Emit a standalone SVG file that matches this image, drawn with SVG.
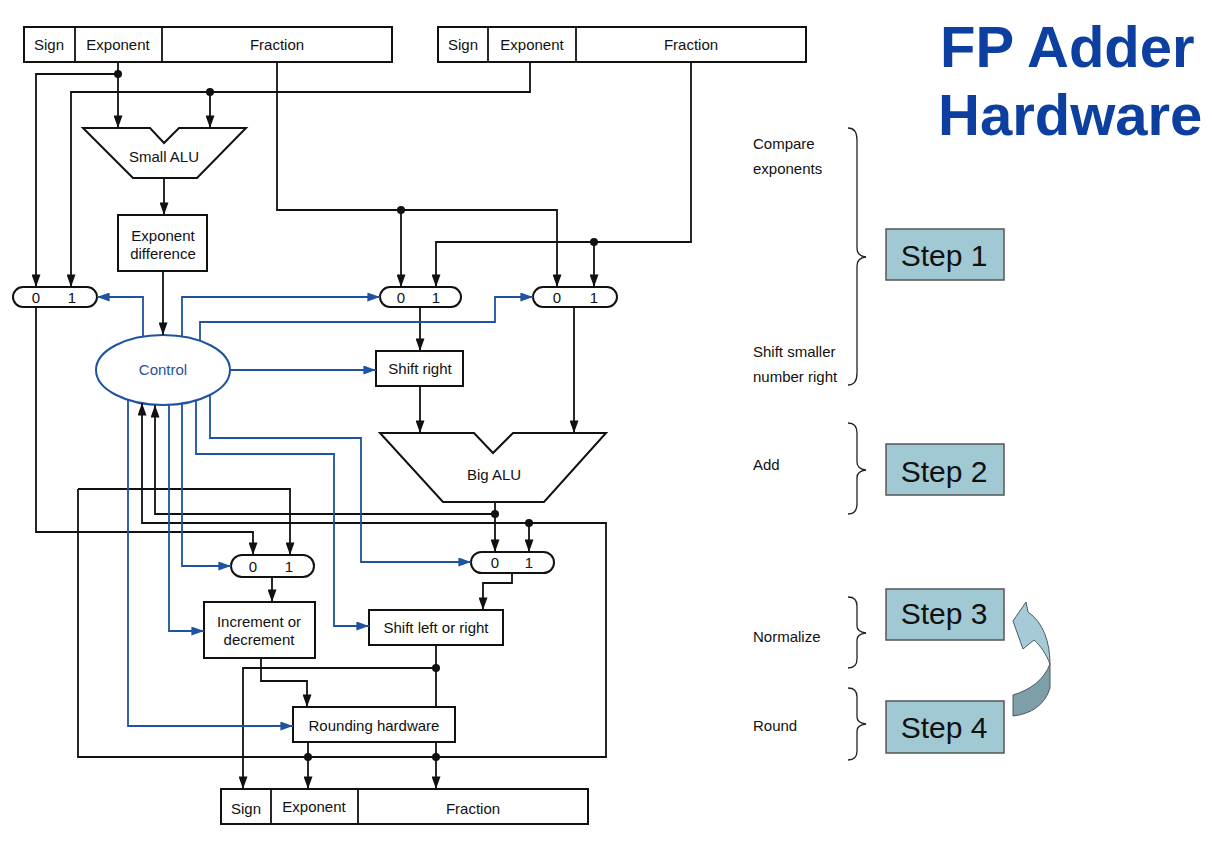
<svg xmlns="http://www.w3.org/2000/svg" width="1212" height="843" viewBox="0 0 1212 843">
<style>
text{font-family:"Liberation Sans",Arial,sans-serif;fill:#111;}
.lbl{font-size:15px;text-anchor:middle;}
.box{fill:#fff;stroke:#111;stroke-width:2;}
.w{fill:none;stroke:#111;stroke-width:1.8;}
.b{fill:none;stroke:#1f52a0;stroke-width:1.8;}
.dot{fill:#111;}
.step{fill:#a0c9d3;stroke:#555;stroke-width:1.5;}
.stxt{font-size:30px;text-anchor:middle;}
.side{font-size:15px;}
.brace{fill:none;stroke:#222;stroke-width:1.3;}
</style>
<defs>
<marker id="ak" viewBox="0 0 14 10" refX="14" refY="5" markerWidth="14" markerHeight="9" orient="auto" markerUnits="userSpaceOnUse"><path d="M0,0 L14,5 L0,10 Z" fill="#111"/></marker>
<marker id="abl" viewBox="0 0 14 10" refX="14" refY="5" markerWidth="14" markerHeight="9" orient="auto" markerUnits="userSpaceOnUse"><path d="M0,0 L14,5 L0,10 Z" fill="#1f52a0"/></marker>
</defs>
<rect width="1212" height="843" fill="#fff"/>

<g id="title">
<text x="940" y="67" style="font-size:58px;font-weight:bold;fill:#0d3fa0">FP Adder</text>
<text x="938" y="135" style="font-size:58px;font-weight:bold;fill:#0d3fa0">Hardware</text>
</g>

<g id="regA">
<rect class="box" x="24" y="27" width="368" height="35"/>
<line class="w" x1="75" y1="27" x2="75" y2="62"/>
<line class="w" x1="162" y1="27" x2="162" y2="62"/>
<text class="lbl" x="49" y="50">Sign</text>
<text class="lbl" x="118" y="50">Exponent</text>
<text class="lbl" x="277" y="50">Fraction</text>
</g>
<g id="regB">
<rect class="box" x="438" y="27" width="368" height="35"/>
<line class="w" x1="488" y1="27" x2="488" y2="62"/>
<line class="w" x1="576" y1="27" x2="576" y2="62"/>
<text class="lbl" x="463" y="50">Sign</text>
<text class="lbl" x="532" y="50">Exponent</text>
<text class="lbl" x="691" y="50">Fraction</text>
</g>
<g id="regOut">
<rect class="box" x="221" y="789" width="367" height="35"/>
<line class="w" x1="271" y1="789" x2="271" y2="824"/>
<line class="w" x1="358" y1="789" x2="358" y2="824"/>
<text class="lbl" x="246" y="814">Sign</text>
<text class="lbl" x="314" y="812">Exponent</text>
<text class="lbl" x="473" y="814">Fraction</text>
</g>

<g id="smallALU">
<path class="box" d="M83,128 L150,128 L164,143 L179,128 L246,128 L197,178 L133,178 Z"/>
<text class="lbl" x="164" y="162">Small ALU</text>
</g>
<g id="expDiff">
<rect class="box" x="118" y="215" width="89" height="56"/>
<text class="lbl" x="163" y="241">Exponent</text>
<text class="lbl" x="163" y="259">difference</text>
</g>
<g id="control">
<ellipse cx="163" cy="370" rx="67" ry="35" fill="#fff" stroke="#1f52a0" stroke-width="2"/>
<text class="lbl" x="163" y="375" style="fill:#1f52a0">Control</text>
</g>
<g id="mux1">
<rect class="box" x="13" y="287" width="84" height="20" rx="10"/>
<text class="lbl" x="36" y="303">0</text><text class="lbl" x="72" y="303">1</text>
</g>
<g id="mux2">
<rect class="box" x="380" y="287" width="81" height="20" rx="10"/>
<text class="lbl" x="401" y="303">0</text><text class="lbl" x="436" y="303">1</text>
</g>
<g id="mux3">
<rect class="box" x="533" y="287" width="84" height="20" rx="10"/>
<text class="lbl" x="557" y="303">0</text><text class="lbl" x="594" y="303">1</text>
</g>
<g id="shiftRight">
<rect class="box" x="376" y="351" width="87" height="35"/>
<text class="lbl" x="420" y="374">Shift right</text>
</g>
<g id="bigALU">
<path class="box" d="M380,433 L474,433 L493,453 L513,433 L606,433 L544,502 L443,502 Z"/>
<text class="lbl" x="494" y="480">Big ALU</text>
</g>
<g id="mux4">
<rect class="box" x="231" y="555" width="83" height="22" rx="11"/>
<text class="lbl" x="253" y="572">0</text><text class="lbl" x="289" y="572">1</text>
</g>
<g id="mux5">
<rect class="box" x="471" y="552" width="83" height="21" rx="10.5"/>
<text class="lbl" x="495" y="568">0</text><text class="lbl" x="529" y="568">1</text>
</g>
<g id="incDec">
<rect class="box" x="204" y="602" width="111" height="56"/>
<text class="lbl" x="259" y="627">Increment or</text>
<text class="lbl" x="259" y="645">decrement</text>
</g>
<g id="shiftLR">
<rect class="box" x="369" y="610" width="134" height="35"/>
<text class="lbl" x="436" y="633">Shift left or right</text>
</g>
<g id="rounding">
<rect class="box" x="293" y="707" width="162" height="35"/>
<text class="lbl" x="374" y="731">Rounding hardware</text>
</g>

<g id="connectors">
<path class="w" d="M118,62 V128" marker-end="url(#ak)"/>
<path class="w" d="M118,74 H36 V287" marker-end="url(#ak)"/>
<path class="w" d="M530,62 V92 H71 V287" marker-end="url(#ak)"/>
<path class="w" d="M210,92 V128" marker-end="url(#ak)"/>
<path class="w" d="M164,178 V215" marker-end="url(#ak)"/>
<path class="w" d="M163,271 V335" marker-end="url(#ak)"/>
<path class="w" d="M277,62 V210 H557 V287" marker-end="url(#ak)"/>
<path class="w" d="M401,210 V287" marker-end="url(#ak)"/>
<path class="w" d="M691,62 V242 H436 V287" marker-end="url(#ak)"/>
<path class="w" d="M594,242 V287" marker-end="url(#ak)"/>
<path class="w" d="M420,307 V351" marker-end="url(#ak)"/>
<path class="w" d="M420,386 V433" marker-end="url(#ak)"/>
<path class="w" d="M574,307 V433" marker-end="url(#ak)"/>
<path class="w" d="M495,502 V552" marker-end="url(#ak)"/>
<path class="w" d="M495,514 H155 V405" marker-end="url(#ak)"/>
<path class="w" d="M78,489 H290 V555" marker-end="url(#ak)"/>
<path class="w" d="M78,489 V757 H606 V523 H142 V403" marker-end="url(#ak)"/>
<path class="w" d="M529,523 V552" marker-end="url(#ak)"/>
<path class="w" d="M36,307 V532 H253 V555" marker-end="url(#ak)"/>
<path class="w" d="M272,577 V602" marker-end="url(#ak)"/>
<path class="w" d="M261,658 V681 H307 V707" marker-end="url(#ak)"/>
<path class="w" d="M512,573 V583 H483 V610" marker-end="url(#ak)"/>
<path class="w" d="M436,645 V707"/>
<path class="w" d="M436,668 H243 V789" marker-end="url(#ak)"/>
<path class="w" d="M308,742 V789" marker-end="url(#ak)"/>
<path class="w" d="M436,742 V789" marker-end="url(#ak)"/>

<path class="b" d="M143,336 V297 H97" marker-end="url(#abl)"/>
<path class="b" d="M182,336 V297 H380" marker-end="url(#abl)"/>
<path class="b" d="M200,341 V322 H495 V297 H533" marker-end="url(#abl)"/>
<path class="b" d="M230,370 H376" marker-end="url(#abl)"/>
<path class="b" d="M210,395 V438 H361 V562 H471" marker-end="url(#abl)"/>
<path class="b" d="M196,400 V454 H334 V626 H369" marker-end="url(#abl)"/>
<path class="b" d="M182,404 V566 H231" marker-end="url(#abl)"/>
<path class="b" d="M169,405 V631 H204" marker-end="url(#abl)"/>
<path class="b" d="M128,400 V726 H293" marker-end="url(#abl)"/>

<circle class="dot" cx="118" cy="74" r="4"/>
<circle class="dot" cx="210" cy="92" r="4"/>
<circle class="dot" cx="401" cy="210" r="4"/>
<circle class="dot" cx="594" cy="242" r="4"/>
<circle class="dot" cx="495" cy="514" r="4"/>
<circle class="dot" cx="529" cy="523" r="4"/>
<circle class="dot" cx="436" cy="668" r="4"/>
<circle class="dot" cx="308" cy="757" r="4"/>
<circle class="dot" cx="436" cy="757" r="4"/>
</g>

<g id="steps">
<path class="brace" d="M848,128 Q857,128 857,140 V248 Q857,256 866,257 Q857,258 857,266 V373 Q857,385 848,385"/>
<text class="side" x="753" y="149">Compare</text>
<text class="side" x="753" y="174">exponents</text>
<text class="side" x="753" y="357">Shift smaller</text>
<text class="side" x="753" y="382">number right</text>
<rect class="step" x="886" y="229" width="118" height="51"/>
<text class="stxt" x="944" y="266">Step 1</text>

<path class="brace" d="M848,423 Q857,423 857,433 V462 Q857,469 866,470 Q857,471 857,478 V504 Q857,514 848,514"/>
<text class="side" x="753" y="470">Add</text>
<rect class="step" x="886" y="444" width="118" height="51"/>
<text class="stxt" x="944" y="482">Step 2</text>

<path class="brace" d="M848,597 Q857,597 857,606 V626 Q857,632 866,633 Q857,634 857,640 V659 Q857,668 848,668"/>
<text class="side" x="753" y="642">Normalize</text>
<rect class="step" x="886" y="589" width="118" height="51"/>
<text class="stxt" x="944" y="624">Step 3</text>

<path class="brace" d="M848,688 Q857,688 857,697 V717 Q857,723 866,724 Q857,725 857,731 V751 Q857,760 848,760"/>
<text class="side" x="753" y="731">Round</text>
<rect class="step" x="886" y="701" width="118" height="52"/>
<text class="stxt" x="944" y="738">Step 4</text>

<path d="M1013,621 L1026,602 L1028,612 C1043,622 1050,642 1050,664 C1046,654 1041,646 1034,640 L1023,649 Z" fill="#a7cbd6" stroke="#4a5a60" stroke-width="1"/>
<path d="M1050,664 L1050,688 C1045,705 1031,714 1013,716 L1013,695 C1030,690 1044,680 1050,664 Z" fill="#7e9fa7" stroke="#4a5a60" stroke-width="1"/>
</g>
</svg>
